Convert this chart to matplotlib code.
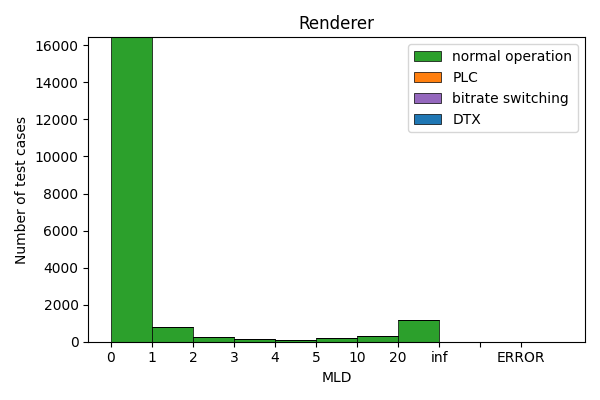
import matplotlib
matplotlib.use('Agg')
import matplotlib.pyplot as plt
import numpy as np

tick_labels = ['0', '1', '2', '3', '4', '5', '10', '20', 'inf', '', 'ERROR']
normal_operation = [16430, 808, 270, 160, 108, 215, 323, 1150, 0, 0, 0]
plc = [0] * 11
bitrate_switching = [0] * 11
dtx = [0] * 11

x = np.arange(len(tick_labels))
fig, ax = plt.subplots(figsize=(6, 4), dpi=100)

bottom = np.zeros(len(x))
series = [
    (normal_operation, 'tab:green', 'normal operation'),
    (plc, 'tab:orange', 'PLC'),
    (bitrate_switching, 'tab:purple', 'bitrate switching'),
    (dtx, 'tab:blue', 'DTX'),
]
for vals, col, lab in series:
    ax.bar(x, vals, width=1, align='edge', bottom=bottom, color=col,
           edgecolor='black', linewidth=0.5, label=lab)
    bottom += np.array(vals)

ax.set_xticks(x)
ax.set_xticklabels(tick_labels)
ax.set_xlim(-0.55, 11.55)
ax.set_ylim(0, max(bottom))
ax.set_xlabel('MLD')
ax.set_ylabel('Number of test cases')
ax.set_title('Renderer')
ax.legend(loc='upper right')
fig.tight_layout()
fig.savefig('out.png')
